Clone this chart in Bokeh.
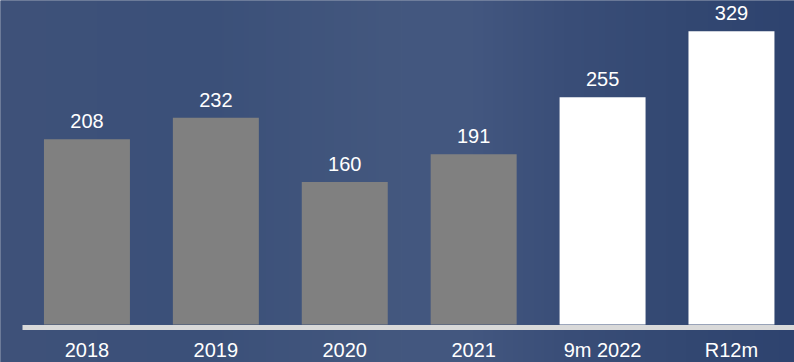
import numpy as np
from bokeh.plotting import figure
from bokeh.models import Range1d, LinearAxis, FixedTicker, ColumnDataSource
from bokeh.embed import file_html
from bokeh.resources import INLINE
from bokeh.core.properties import value

categories = ["2018", "2019", "2020", "2021", "9m 2022", "R12m"]
values = [208, 232, 160, 191, 255, 329]
bar_colors = ["#808080", "#808080", "#808080", "#808080", "#ffffff", "#ffffff"]

idx = list(range(len(categories)))
src = ColumnDataSource(dict(x=idx, top=values, color=bar_colors,
                            label=[str(v) for v in values]))

x0, x1 = -0.6707, 5.489
y0, y1 = -42.6, 363.6

p = figure(width=794, height=362, x_range=Range1d(x0, x1), y_range=Range1d(y0, y1),
           x_axis_location=None, y_axis_location=None, min_border=0,
           toolbar_location=None, output_backend="svg")
p.grid.visible = False
p.outline_line_color = None
p.background_fill_color = "#3d5179"
p.border_fill_color = "#3d5179"

# background gradient (decorative)
stops_px = [0, 200, 400, 470, 560, 680, 794]
stops_rgb = [(63, 82, 121), (59, 80, 121), (68, 88, 127), (67, 87, 128),
             (58, 78, 120), (51, 72, 114), (46, 67, 111)]
cols = np.arange(794)
r = np.interp(cols, stops_px, [c[0] for c in stops_rgb]).astype(np.uint32)
g = np.interp(cols, stops_px, [c[1] for c in stops_rgb]).astype(np.uint32)
b = np.interp(cols, stops_px, [c[2] for c in stops_rgb]).astype(np.uint32)
row = (255 << 24) | (b << 16) | (g << 8) | r
img = np.vstack([row] * 4).astype(np.uint32)
pad_x = 0.05
pad_y = 10
p.image_rgba(image=[img], x=x0 - pad_x, y=y0 - pad_y, dw=x1 - x0 + 2 * pad_x,
             dh=y1 - y0 + 2 * pad_y, level="image")

p.vbar(x="x", top="top", bottom=0, width=0.667, fill_color="color",
       line_color=None, source=src)

p.text(x="x", y="top", text="label", source=src, text_align="center",
       text_baseline="alphabetic", y_offset=-18, text_color="#ffffff",
       text_font=value("Liberation Sans"), text_font_size="20px")

xaxis = LinearAxis(fixed_location=-2.8,
                   ticker=FixedTicker(ticks=idx),
                   major_label_overrides={i: c for i, c in zip(idx, categories)},
                   bounds=(-0.5, 5.5))
xaxis.axis_line_color = "#d9d9d9"
xaxis.axis_line_width = 5
xaxis.major_tick_line_color = None
xaxis.minor_tick_line_color = None
xaxis.major_label_text_color = "#ffffff"
xaxis.major_label_text_font = "Liberation Sans"
xaxis.major_label_text_font_size = "20px"
xaxis.major_label_standoff = 6
p.add_layout(xaxis, "below")

open("out.html", "w").write(file_html(p, INLINE))
